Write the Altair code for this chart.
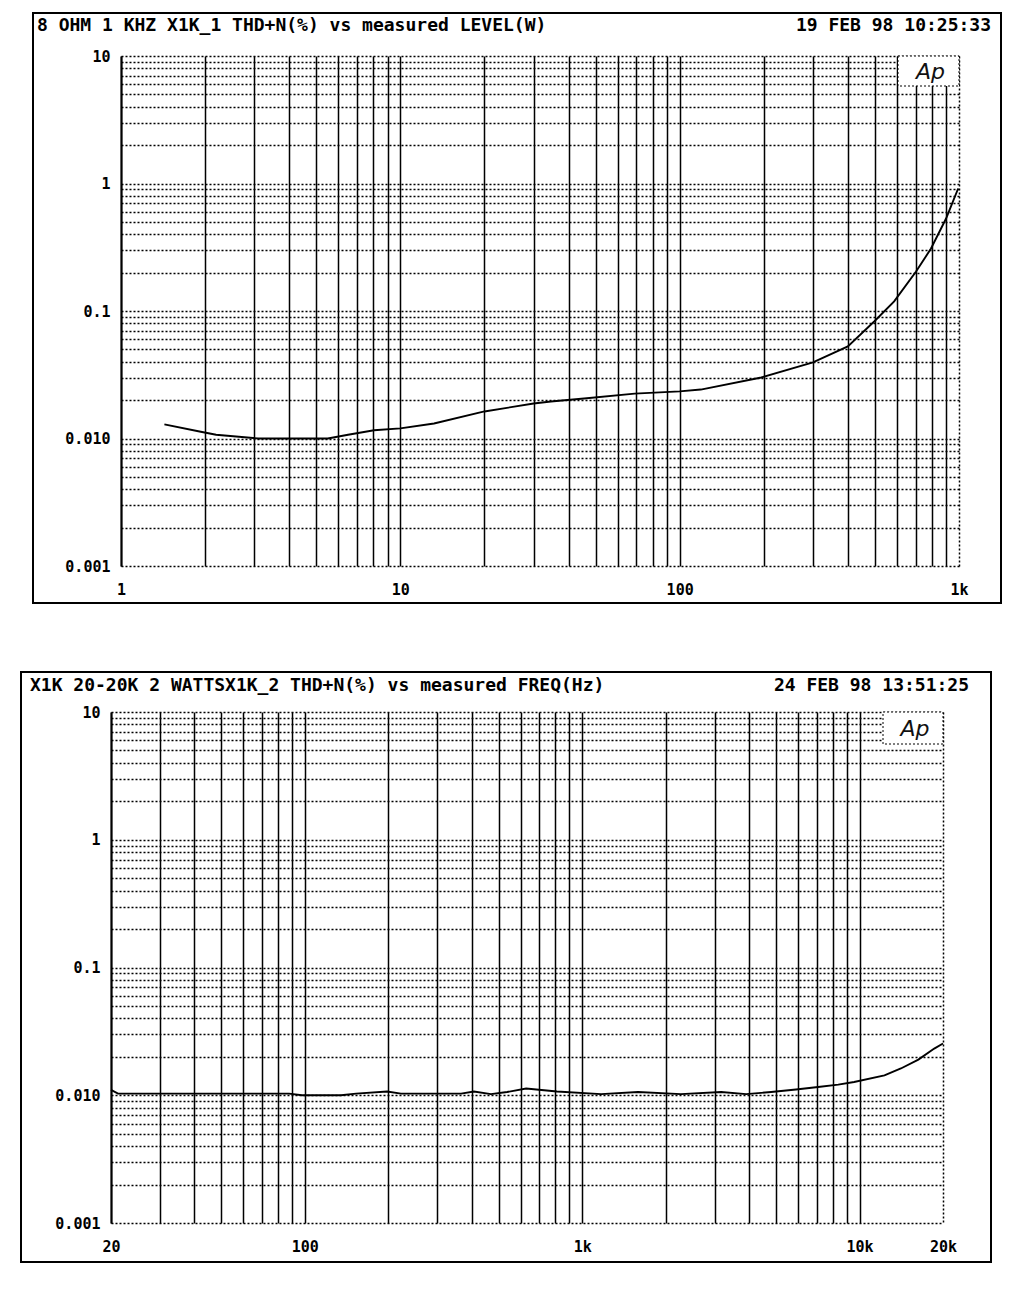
import altair as alt
import pandas as pd

# ---------------- data ----------------
level_w = [1.43, 1.93, 2.19, 3.1, 5.5, 6.5, 8.05, 10, 13.2, 20, 30, 34.6, 45.5, 69,
           100, 119, 196, 300, 400, 497, 586, 702, 794, 899, 993]
thd_level_pct = [0.0129, 0.0113, 0.0107, 0.0100, 0.0100, 0.0107, 0.0116, 0.0120, 0.0131,
                 0.0163, 0.0188, 0.0195, 0.0206, 0.0225, 0.0234, 0.0242, 0.0301, 0.0395,
                 0.0527, 0.0827, 0.119, 0.204, 0.309, 0.531, 0.914]

freq_hz = [20, 21.2, 42.2, 87.7, 97.7, 135, 153, 198, 222, 366, 407, 469, 536, 628, 811,
           1170, 1590, 2270, 3170, 3900, 4800, 5900, 7090, 8380, 9560, 12300, 14100,
           16300, 18600, 20000]
thd_freq_pct = [0.0110, 0.0103, 0.0103, 0.0103, 0.0100, 0.0100, 0.0103, 0.0107, 0.0103,
                0.0103, 0.0107, 0.0102, 0.0106, 0.0113, 0.0107, 0.0102, 0.0106, 0.0102,
                0.0106, 0.0102, 0.0106, 0.0111, 0.0116, 0.0121, 0.0127, 0.0143, 0.0162,
                0.0190, 0.0232, 0.0254]

top_header = "8 OHM 1 KHZ X1K_1 THD+N(%) vs measured LEVEL(W)"
top_date = "19 FEB 98 10:25:33"
bot_header = "X1K 20-20K 2 WATTSX1K_2 THD+N(%) vs measured FREQ(Hz)"
bot_date = "24 FEB 98 13:51:25"

y_label_values = [0.001, 0.01, 0.1, 1, 10]
y_label_text = ["0.001", "0.010", "0.1", "1", "10"]
top_x_label_values = [1, 10, 100, 1000]
top_x_label_text = ["1", "10", "100", "1k"]
bot_x_label_values = [20, 100, 1000, 10000, 20000]
bot_x_label_text = ["20", "100", "1k", "10k", "20k"]

mult = [1, 2, 3, 4, 5, 6, 7, 8, 9]
y_grid = [round(m * 10.0 ** e, 6) for e in (-3, -2, -1, 0) for m in mult] + [10]
top_x_grid = [m * 10 ** e for e in (0, 1, 2) for m in mult] + [1000]
bot_x_grid = [m * 10 ** e for e in (1, 2, 3) for m in mult if m * 10 ** e >= 20] + [10000, 20000]

MONO = "DejaVu Sans Mono"


def label_expr(vals, texts):
    expr = "''"
    for v, t in reversed(list(zip(vals, texts))):
        expr = f"datum.value == {v!r} ? '{t}' : " + expr
    return expr


def one():
    return pd.DataFrame({"k": [0]})


def panel(df, xfield, xdomain, xgrid, xlv, xlt, w, h, header, date,
          box, head_xy, date_x, ap):
    line = alt.Chart(df).mark_line(color="black", strokeWidth=1.9).encode(
        x=alt.X(f"{xfield}:Q",
                scale=alt.Scale(type="log", domain=xdomain, nice=False),
                axis=alt.Axis(values=xgrid, labelExpr=label_expr(xlv, xlt), grid=True,
                              gridColor="black", gridWidth=1.5,
                              gridDash={"condition": {"test": f"datum.value >= {xdomain[1]}",
                                                      "value": [2, 2]}, "value": []},
                              domain=False, ticks=False, labelPadding=16,
                              labelFont=MONO, labelFontWeight="bold", labelFontSize=15,
                              labelColor="black", labelOverlap=False, labelFlush=False,
                              title=None)),
        y=alt.Y("thd:Q",
                scale=alt.Scale(type="log", domain=[0.001, 10], nice=False),
                axis=alt.Axis(values=y_grid, labelExpr=label_expr(y_label_values, y_label_text),
                              grid=True, gridColor="black", gridWidth=1.4, gridDash=[2, 2],
                              domain=True, domainColor="black", domainWidth=2, ticks=False,
                              labelPadding=11, labelFont=MONO, labelFontWeight="bold",
                              labelFontSize=15, labelColor="black", labelOverlap=False,
                              labelFlush=False, title=None)),
    )
    ap_box = alt.Chart(one()).mark_rect(fill="white", stroke="black", strokeWidth=1,
                                        strokeDash=[2, 2]).encode(
        x=alt.value(ap[0]), x2=alt.value(w), y=alt.value(0), y2=alt.value(ap[1]))
    ap_text = alt.Chart(one()).mark_text(text="Ap", font="DejaVu Sans", fontStyle="italic",
                                         fontSize=22, color="#111", align="center",
                                         baseline="middle").encode(
        x=alt.value((ap[0] + w) / 2 + 2), y=alt.value(ap[1] / 2 + 1))
    frame = alt.Chart(one()).mark_rect(fillOpacity=0, stroke="black", strokeWidth=2).encode(
        x=alt.value(box[0]), x2=alt.value(box[1]), y=alt.value(box[2]), y2=alt.value(box[3]))
    head = alt.Chart(one()).mark_text(text=header, font=MONO, fontWeight="bold", fontSize=18,
                                      align="left", baseline="middle", color="black").encode(
        x=alt.value(head_xy[0]), y=alt.value(head_xy[1]))
    dt = alt.Chart(one()).mark_text(text=date, font=MONO, fontWeight="bold", fontSize=18,
                                    align="right", baseline="middle", color="black").encode(
        x=alt.value(date_x), y=alt.value(head_xy[1]))
    return alt.layer(ap_box, ap_text, line, frame, head, dt).properties(width=w, height=h)


def spacer(w):
    # invisible cell used only to offset a panel horizontally
    return alt.Chart(one()).mark_rule(color="white").encode(
        x=alt.value(0), x2=alt.value(w), y=alt.value(0)).properties(width=w, height=1)


df_top = pd.DataFrame({"level": level_w, "thd": thd_level_pct})
df_bot = pd.DataFrame({"freq": freq_hz, "thd": thd_freq_pct})

top = panel(df_top, "level", [1, 1000], top_x_grid, top_x_label_values, top_x_label_text,
            838, 510, top_header, top_date,
            box=(-88, 880, -43, 547), head_xy=(-84, -30), date_x=870, ap=(777, 30))
bottom = panel(df_bot, "freq", [20, 20000], bot_x_grid, bot_x_label_values, bot_x_label_text,
               832, 511, bot_header, bot_date,
               box=(-90, 880, -40, 550), head_xy=(-81, -26), date_x=858, ap=(772, 32))

chart = alt.vconcat(
    alt.hconcat(spacer(13), top, spacing=0),
    alt.hconcat(spacer(1), bottom, spacing=0),
    spacing=67,
).properties(
    padding={"left": 9, "top": 4, "right": 5, "bottom": 5}
).configure_view(strokeWidth=0)

chart.save("out.html", embed_options={"renderer": "svg", "actions": False})
